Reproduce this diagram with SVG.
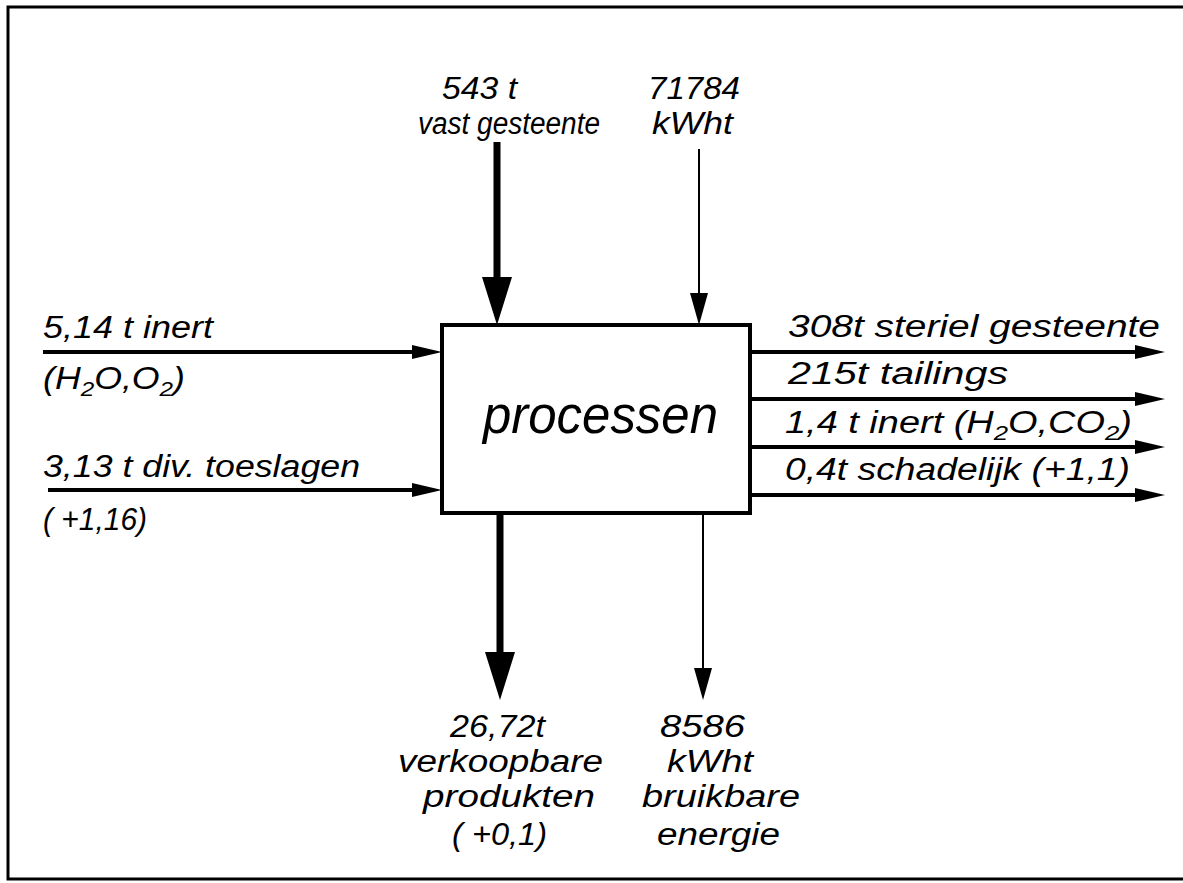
<svg xmlns="http://www.w3.org/2000/svg" width="1183" height="883" viewBox="0 0 1183 883">
<style>
text{font-family:"Liberation Sans","DejaVu Sans",sans-serif;font-style:italic;font-size:31px;fill:#000}
.big{font-size:54px}
.sub{font-size:21px}
.ln{stroke:#000;fill:none}
.w4{stroke-width:4}
.w7{stroke-width:7}
.w2{stroke-width:2}
</style>
<defs>
<marker id="hH" viewBox="0 0 30 14" refX="10" refY="7" markerWidth="30" markerHeight="14" markerUnits="userSpaceOnUse" orient="auto"><path d="M0,0 L30,7 L0,14 z" fill="#000"/></marker>
<marker id="hThick" viewBox="0 0 48 30" refX="18" refY="15" markerWidth="48" markerHeight="30" markerUnits="userSpaceOnUse" orient="auto"><path d="M0,0 L48,15 L0,30 z" fill="#000"/></marker>
<marker id="hThin" viewBox="0 0 32 18" refX="12" refY="9" markerWidth="32" markerHeight="18" markerUnits="userSpaceOnUse" orient="auto"><path d="M0,0 L32,9 L0,18 z" fill="#000"/></marker>
</defs>
<rect width="1183" height="883" fill="#fff"/>
<path class="ln" stroke-width="3" d="M1183,7 H8 V879 H1183"/>

<g id="processen">
<rect x="442" y="325" width="308" height="188" fill="#fff" stroke="#000" stroke-width="4"/>
<text class="big" x="483" y="433" textLength="235" lengthAdjust="spacingAndGlyphs">processen</text>
</g>

<g id="connectors">
<path class="ln w7" d="M497,142 V295" marker-end="url(#hThick)"/>
<path class="ln w2" d="M699,149 V305" marker-end="url(#hThin)"/>
<path class="ln w4" d="M43,352 H422" marker-end="url(#hH)"/>
<path class="ln w4" d="M48,490 H422" marker-end="url(#hH)"/>
<path class="ln w4" d="M750,352 H1145" marker-end="url(#hH)"/>
<path class="ln w4" d="M750,399 H1145" marker-end="url(#hH)"/>
<path class="ln w4" d="M750,447 H1145" marker-end="url(#hH)"/>
<path class="ln w4" d="M750,495 H1145" marker-end="url(#hH)"/>
<path class="ln w7" d="M500,513 V670" marker-end="url(#hThick)"/>
<path class="ln w2" d="M703,513 V680" marker-end="url(#hThin)"/>
</g>

<g id="in-gesteente">
<text x="442" y="99" textLength="75" lengthAdjust="spacingAndGlyphs">543 t</text>
<text x="418" y="134" textLength="182" lengthAdjust="spacingAndGlyphs">vast gesteente</text>
</g>
<g id="in-energie">
<text x="648" y="99" textLength="92" lengthAdjust="spacingAndGlyphs">71784</text>
<text x="652" y="134" textLength="81" lengthAdjust="spacingAndGlyphs">kWht</text>
</g>
<g id="in-inert">
<text x="43" y="338" textLength="170" lengthAdjust="spacingAndGlyphs">5,14 t inert</text>
<text x="43" y="389" textLength="142" lengthAdjust="spacingAndGlyphs">(H<tspan class="sub" dy="7">2</tspan><tspan dy="-7">O,O</tspan><tspan class="sub" dy="7">2</tspan><tspan dy="-7">)</tspan></text>
</g>
<g id="in-toeslagen">
<text x="43" y="477" textLength="317" lengthAdjust="spacingAndGlyphs">3,13 t div. toeslagen</text>
<text x="43" y="530" textLength="104" lengthAdjust="spacingAndGlyphs">( +1,16)</text>
</g>
<g id="out-steriel">
<text x="788" y="337" textLength="372" lengthAdjust="spacingAndGlyphs">308t steriel gesteente</text>
</g>
<g id="out-tailings">
<text x="788" y="384" textLength="220" lengthAdjust="spacingAndGlyphs">215t tailings</text>
</g>
<g id="out-inert">
<text x="785" y="433" textLength="347" lengthAdjust="spacingAndGlyphs">1,4 t  inert (H<tspan class="sub" dy="7">2</tspan><tspan dy="-7">O,CO</tspan><tspan class="sub" dy="7">2</tspan><tspan dy="-7">)</tspan></text>
</g>
<g id="out-schadelijk">
<text x="785" y="480" textLength="345" lengthAdjust="spacingAndGlyphs">0,4t schadelijk (+1,1)</text>
</g>
<g id="out-produkten">
<text x="450" y="737" textLength="95" lengthAdjust="spacingAndGlyphs">26,72t</text>
<text x="398" y="772" textLength="205" lengthAdjust="spacingAndGlyphs">verkoopbare</text>
<text x="423" y="807" textLength="172" lengthAdjust="spacingAndGlyphs">produkten</text>
<text x="452" y="845" textLength="95" lengthAdjust="spacingAndGlyphs">( +0,1)</text>
</g>
<g id="out-energie">
<text x="660" y="737" textLength="85" lengthAdjust="spacingAndGlyphs">8586</text>
<text x="667" y="772" textLength="86" lengthAdjust="spacingAndGlyphs">kWht</text>
<text x="642" y="807" textLength="158" lengthAdjust="spacingAndGlyphs">bruikbare</text>
<text x="657" y="845" textLength="123" lengthAdjust="spacingAndGlyphs">energie</text>
</g>
</svg>
